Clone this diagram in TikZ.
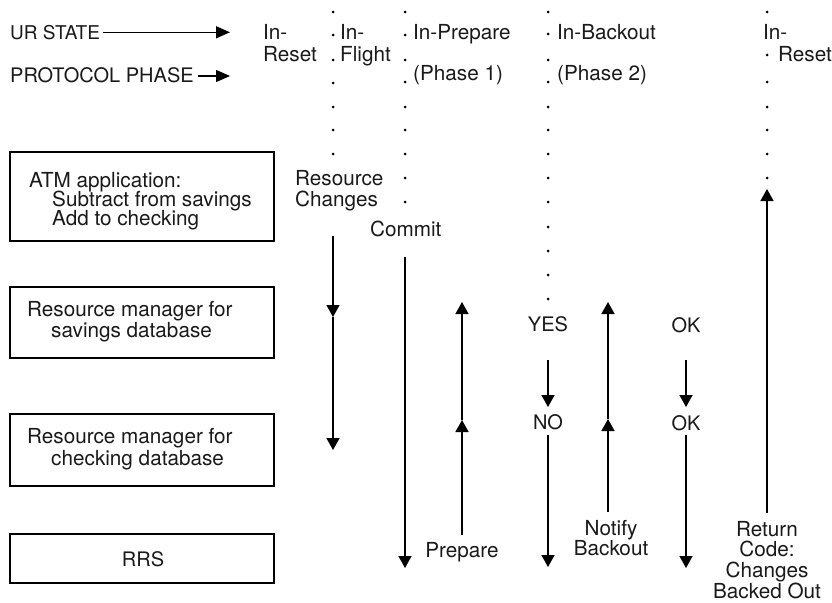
\documentclass[tikz,border=0pt]{standalone}
\usepackage{fontspec}
\setmainfont{TeX Gyre Heros}
\usetikzlibrary{arrows.meta}
\begin{document}
\begin{tikzpicture}[x=1pt,y=-1pt,
  txt/.style={font=\fontsize{20.7}{21}\selectfont, inner sep=0pt, text=black!90},
  capt/.style={font=\fontsize{20}{21}\selectfont},
  lt/.style={txt, anchor=base west},
  ct/.style={txt, anchor=base},
  box/.style={draw, line width=1.2pt, minimum width=264pt, inner sep=0pt},
  arr/.style={line width=1.4pt, -{Triangle[length=12pt,width=13pt]}},
  harr/.style={line width=1.4pt, -{Triangle[length=14pt,width=12pt]}}]
\useasboundingbox (0,0) rectangle (832,602);

% boxes
\node[box, minimum height=89pt] (atm) at (142,196.5) {};
\node[box, minimum height=71pt] (rms) at (142,322.5) {};
\node[box, minimum height=72pt] (rmc) at (142,450) {};
\node[box, minimum height=49pt] (rrs) at (142,558.5) {};

\node[lt] (atm1) at (29,187.3) {ATM application:};
\node[lt] (atm2) at (52,206) {Subtract from savings};
\node[lt] (atm3) at (52,225) {Add to checking};
\node[lt] (rms1) at (27,316) {Resource manager for};
\node[lt] (rms2) at (51,337) {savings database};
\node[lt] (rmc1) at (27,443.5) {Resource manager for};
\node[lt] (rmc2) at (51,465) {checking database};
\node[ct, capt] (rrst) at (143,566.7) {RRS};

% top labels
\node[lt, font=\fontsize{19}{21}\selectfont] (ur) at (10,40) {UR STATE};
\node[lt, capt] (pp) at (10,82.7) {PROTOCOL PHASE};
\coordinate (urs) at (103,32.3);
\coordinate (ure) at (230,32.3);
\coordinate (pps) at (198,76);
\coordinate (ppe) at (230,76);
\draw[harr] (urs) -- (ure);
\draw[harr] (pps) -- (ppe);

% dotted columns
\foreach \yy in {12,35,60,83,107,130,154} \fill (333,\yy) circle (1.5pt);
\foreach \yy in {12,35,60,82,107,130,154,178,202} \fill (405,\yy) circle (1.5pt);
\foreach \yy in {12,34,60,82,107,130,154,178,202,227,251,275,299} \fill (548,\yy) circle (1.5pt);
\foreach \yy in {12,55,82,107,130,154,178} \fill (767,\yy) circle (1.5pt);

% state labels
\node[lt] (inr1) at (263,40) {In-};
\node[lt] (inr2) at (263,61.7) {Reset};
\node[lt] (inf1) at (340,40) {In-};
\node[lt] (inf2) at (340,61.7) {Flight};
\node[lt] (inp1) at (413,40) {In-Prepare};
\node[lt] (inp2) at (413,81) {(Phase 1)};
\node[lt] (inb1) at (557,40) {In-Backout};
\node[lt] (inb2) at (557,81) {(Phase 2)};
\node[lt] (inr3) at (763,40) {In-};
\node[lt] (inr4) at (778,61.7) {Reset};
\node[lt] (rc1) at (295,185.7) {Resource};
\node[lt] (rc2) at (295,206.7) {Changes};
\node[lt] (cm) at (370,236) {Commit};

% lower labels
\node[ct, capt] (yes) at (548,331.7) {YES};
\node[ct, capt] (no) at (548,429) {NO};
\node[ct, capt] (ok1) at (686,332.7) {OK};
\node[ct, capt] (ok2) at (686,430) {OK};
\node[ct] (prep) at (462,557.3) {Prepare};
\node[ct] (nt1) at (611,535) {Notify};
\node[ct] (nt2) at (611,555) {Backout};
\node[ct] (rt1) at (767,536) {Return};
\node[ct] (rt2) at (767,556.7) {Code:};
\node[ct] (rt3) at (767,577.3) {Changes};
\node[ct] (rt4) at (767,598.3) {Backed Out};

% arrow coordinates
\coordinate (rcs) at (333,236);
\coordinate (rcm) at (333,317);
\coordinate (rce) at (333,450);
\coordinate (cms) at (405,257);
\coordinate (cme) at (405,568);
\coordinate (prs) at (462,535);
\coordinate (prm) at (462,420);
\coordinate (pre) at (462,302);
\coordinate (yns) at (548,360);
\coordinate (yne) at (548,407);
\coordinate (nos) at (548,435);
\coordinate (noe) at (548,567);
\coordinate (nbs) at (608,512);
\coordinate (nbm) at (608,419);
\coordinate (nbe) at (608,302);
\coordinate (oks) at (686,360);
\coordinate (oke) at (686,407);
\coordinate (o2s) at (686,435);
\coordinate (o2e) at (686,568);
\coordinate (rts) at (767,513);
\coordinate (rte) at (767,189);

\draw[arr] (rcs) -- (rcm);
\draw[arr] (rcm) -- (rce);
\draw[arr] (cms) -- (cme);
\draw[arr] (prs) -- (prm);
\draw[arr] (prm) -- (pre);
\draw[arr] (yns) -- (yne);
\draw[arr] (nos) -- (noe);
\draw[arr] (nbs) -- (nbm);
\draw[arr] (nbm) -- (nbe);
\draw[arr] (oks) -- (oke);
\draw[arr] (o2s) -- (o2e);
\draw[arr] (rts) -- (rte);
\end{tikzpicture}
\end{document}
